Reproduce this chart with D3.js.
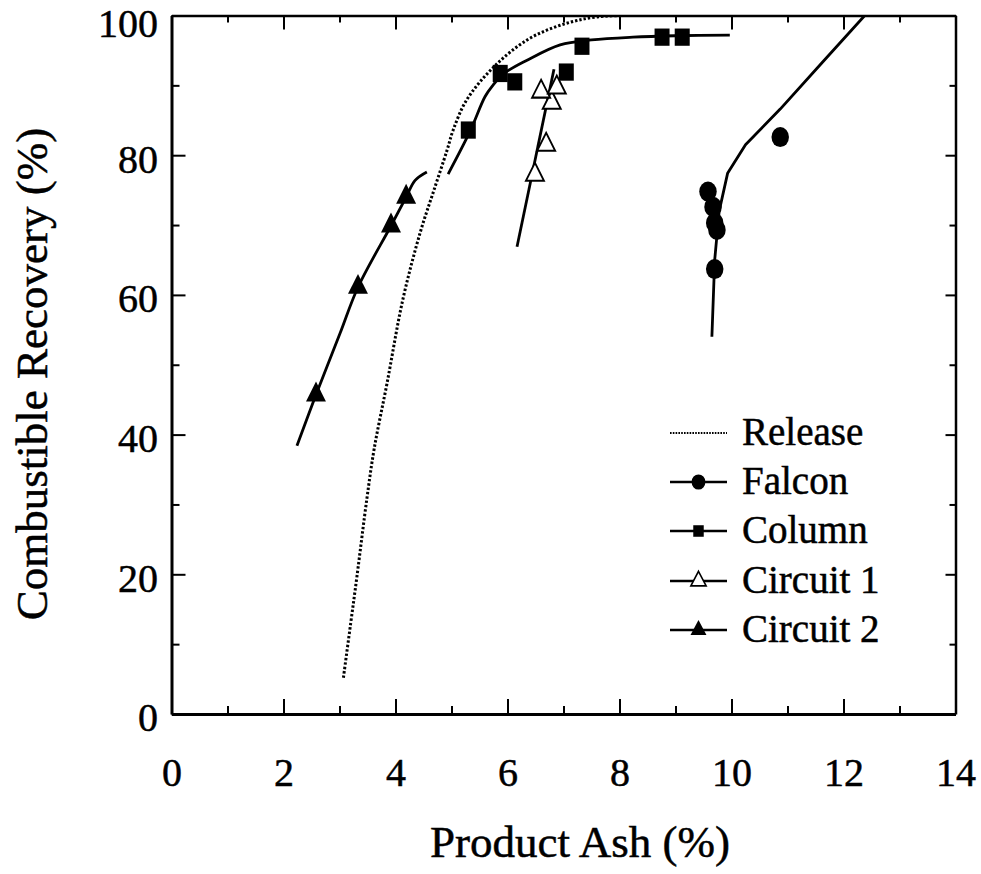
<!DOCTYPE html>
<html>
<head>
<meta charset="utf-8">
<script src="https://cdn.jsdelivr.net/npm/d3@7"></script>
<style>
  html, body { margin: 0; padding: 0; background: #fff; }
  svg { display: block; }
  svg text { font-family: "Liberation Serif", Tinos, "Times New Roman", Times, "DejaVu Serif", serif; fill: #000; stroke: #000; stroke-width: 0.5px; }
</style>
</head>
<body>
<svg id="chart" width="981" height="874"></svg>
<script>
// Axis ranges and tick values
const xDomain = [0, 14];
const yDomain = [0, 100];
const xMajorTicks = [0, 2, 4, 6, 8, 10, 12, 14];
const xMinorTicks = [1, 3, 5, 7, 9, 11, 13];
const yMajorTicks = [0, 20, 40, 60, 80, 100];
const yMinorTicks = [10, 30, 50, 70, 90];
const xTitle = "Product Ash (%)";
const yTitle = "Combustible Recovery (%)";

// Liberation (release) curve: [ash %, recovery %]
const releaseCurve = [[3.07, 5.2], [3.2, 13], [3.31, 19.6], [3.49, 30.9], [3.62, 38], [3.85, 47.4],
  [4.13, 59.3], [4.44, 68.9], [4.67, 74.6], [4.92, 80.7], [5.03, 83.6], [5.27, 87.9],
  [5.75, 92.6], [6.35, 96.5], [6.94, 98.6], [7.6, 99.8], [8.6, 100]];

// Measured points
const falconPoints = [[9.58, 74.8], [9.67, 72.6], [9.70, 70.3], [9.74, 69.3], [9.70, 63.7], [10.87, 82.6]];
const columnPoints = [[5.30, 83.6], [5.87, 91.7], [6.13, 90.5], [7.05, 91.9], [7.33, 95.6], [8.76, 96.9], [9.12, 96.9]];
const circuit1Points = [[6.49, 77.2], [6.69, 81.5], [6.79, 87.5], [6.60, 89.1], [6.88, 89.7]];
const circuit2Points = [[2.58, 45.7], [3.33, 61.1], [3.92, 69.9], [4.19, 74.0]];

// Fitted trend lines
const falconFit = [[9.65, 54.0], [9.70, 65.0], [9.78, 72.0], [9.93, 77.4], [10.25, 81.5], [10.87, 86.6], [11.6, 93.1], [12.38, 100]];
const columnFit = [[4.94, 77.3], [5.33, 83.4], [5.60, 88.4], [5.74, 90.0], [5.92, 91.6], [6.35, 93.6],
  [6.94, 95.8], [7.5, 96.5], [8.24, 96.9], [9.0, 97.1], [9.97, 97.2]];
const circuit1Fit = [[6.17, 66.9], [6.83, 92.3]];
const circuit2Fit = [[2.24, 38.4], [2.58, 45.7], [3.01, 54.5], [3.33, 61.1], [3.92, 69.9], [4.19, 74.0], [4.35, 76.4], [4.56, 77.6]];

const legendLabels = ["Release", "Falcon", "Column", "Circuit 1", "Circuit 2"];

const serif = "'Liberation Serif', Tinos, 'Times New Roman', Times, 'DejaVu Serif', serif";
const svg = d3.select("#chart");
const x = d3.scaleLinear().domain(xDomain).range([171.5, 955.5]);
const y = d3.scaleLinear().domain(yDomain).range([714, 15.5]);

// ---- axes (ticks point inward on all four sides) ----
const axisG = svg.append("g");
function styleAxis(g, width) {
  g.attr("font-family", serif);
  g.select(".domain").attr("stroke", "#000").attr("stroke-width", width);
  g.selectAll(".tick line").attr("stroke", "#000").attr("stroke-width", 2);
}
function minorTicks(g) {
  g.select(".domain").remove();
  g.selectAll("line").attr("stroke", "#000").attr("stroke-width", 2);
}

const bottomAxis = axisG.append("g").attr("transform", `translate(0,${y(0)})`)
  .call(d3.axisBottom(x).tickValues(xMajorTicks).tickSizeInner(-15).tickSizeOuter(0).tickPadding(44).tickFormat(d3.format("d")));
styleAxis(bottomAxis, 3);
bottomAxis.selectAll("text").attr("font-size", 40);
axisG.append("g").attr("transform", `translate(0,${y(0)})`)
  .call(d3.axisBottom(x).tickValues(xMinorTicks).tickSizeInner(-8).tickSizeOuter(0).tickFormat(""))
  .call(minorTicks);

const topAxis = axisG.append("g").attr("transform", `translate(0,${y(100)})`)
  .call(d3.axisTop(x).tickValues(xMajorTicks).tickSizeInner(-14).tickSizeOuter(0).tickFormat(""));
styleAxis(topAxis, 2.5);
axisG.append("g").attr("transform", `translate(0,${y(100)})`)
  .call(d3.axisTop(x).tickValues(xMinorTicks).tickSizeInner(-7).tickSizeOuter(0).tickFormat(""))
  .call(minorTicks);

const leftAxis = axisG.append("g").attr("transform", `translate(${x(0)},0)`)
  .call(d3.axisLeft(y).tickValues(yMajorTicks).tickSizeInner(-14).tickSizeOuter(0).tickPadding(13.5).tickFormat(d3.format("d")));
styleAxis(leftAxis, 3);
leftAxis.selectAll("text").attr("font-size", 40).attr("dy", d => d === 100 ? "0.52em" : "0.42em");
axisG.append("g").attr("transform", `translate(${x(0)},0)`)
  .call(d3.axisLeft(y).tickValues(yMinorTicks).tickSizeInner(-8).tickSizeOuter(0).tickFormat(""))
  .call(minorTicks);

const rightAxis = axisG.append("g").attr("transform", `translate(${x(14)},0)`)
  .call(d3.axisRight(y).tickValues(yMajorTicks).tickSizeInner(-10).tickSizeOuter(0).tickFormat(""));
styleAxis(rightAxis, 2.5);
axisG.append("g").attr("transform", `translate(${x(14)},0)`)
  .call(d3.axisRight(y).tickValues(yMinorTicks).tickSizeInner(-6).tickSizeOuter(0).tickFormat(""))
  .call(minorTicks);

axisG.selectAll(".tick text").attr("fill", "#000");

// ---- axis titles ----
svg.append("text").attr("x", 580).attr("y", 857).attr("text-anchor", "middle")
  .attr("font-family", serif).attr("font-size", 45).text(xTitle);
svg.append("text").attr("transform", "translate(47,374) rotate(-90)").attr("text-anchor", "middle")
  .attr("font-family", serif).attr("font-size", 45).text(yTitle);

// ---- data ----
svg.append("defs").append("clipPath").attr("id", "plotClip")
  .append("rect").attr("x", x(0)).attr("y", y(100)).attr("width", x(14) - x(0)).attr("height", y(0) - y(100));
const plot = svg.append("g").attr("clip-path", "url(#plotClip)");

const lineLinear = d3.line().x(d => x(d[0])).y(d => y(d[1]));
const lineSmooth = d3.line().x(d => x(d[0])).y(d => y(d[1])).curve(d3.curveCatmullRom.alpha(0.5));

plot.append("path").datum(releaseCurve).attr("d", lineSmooth)
  .attr("fill", "none").attr("stroke", "#000").attr("stroke-width", 3).attr("stroke-dasharray", "2.4,2");

[[falconFit, lineLinear], [columnFit, lineSmooth], [circuit1Fit, lineLinear], [circuit2Fit, lineSmooth]]
  .forEach(([data, gen]) => {
    plot.append("path").datum(data).attr("d", gen)
      .attr("fill", "none").attr("stroke", "#000").attr("stroke-width", 2.8)
      .attr("stroke-linejoin", "round");
  });

const markerSpecs = [
  { data: falconPoints, type: d3.symbolCircle, size: 240, fill: "#000" },
  { data: columnPoints, type: d3.symbolSquare, size: 225, fill: "#000" },
  { data: circuit1Points, type: d3.symbolTriangle, size: 140, fill: "#fff" },
  { data: circuit2Points, type: d3.symbolTriangle, size: 173, fill: "#000" }
];
markerSpecs.forEach(s => {
  svg.append("g").selectAll("path").data(s.data).join("path")
    .attr("transform", d => `translate(${x(d[0])},${y(d[1])}) scale(1,1.15)`)
    .attr("d", d3.symbol().type(s.type).size(s.size))
    .attr("fill", s.fill).attr("stroke", "#000").attr("stroke-width", s.fill === "#fff" ? 1.8 : 0);
});

// ---- legend ----
const legend = svg.append("g").attr("font-family", serif);
const legendRows = [433, 482, 531, 581, 630];
const legendMarkers = [null,
  { type: d3.symbolCircle, size: 150, fill: "#000" },
  { type: d3.symbolSquare, size: 110, fill: "#000" },
  { type: d3.symbolTriangle, size: 100, fill: "#fff" },
  { type: d3.symbolTriangle, size: 110, fill: "#000" }];
legendLabels.forEach((label, i) => {
  const ly = legendRows[i];
  legend.append("line").attr("x1", 670).attr("x2", 727).attr("y1", ly).attr("y2", ly)
    .attr("stroke", "#000")
    .attr("stroke-width", i === 0 ? 2 : 2.6)
    .attr("stroke-dasharray", i === 0 ? "1.6,1.2" : null);
  const m = legendMarkers[i];
  if (m) {
    legend.append("path").attr("transform", `translate(698.5,${ly}) scale(1,1.1)`)
      .attr("d", d3.symbol().type(m.type).size(m.size))
      .attr("fill", m.fill).attr("stroke", "#000").attr("stroke-width", m.fill === "#fff" ? 1.6 : 0);
  }
  legend.append("text").attr("x", 742).attr("y", ly + 12).attr("font-size", 39).text(label);
});
</script>
</body>
</html>
